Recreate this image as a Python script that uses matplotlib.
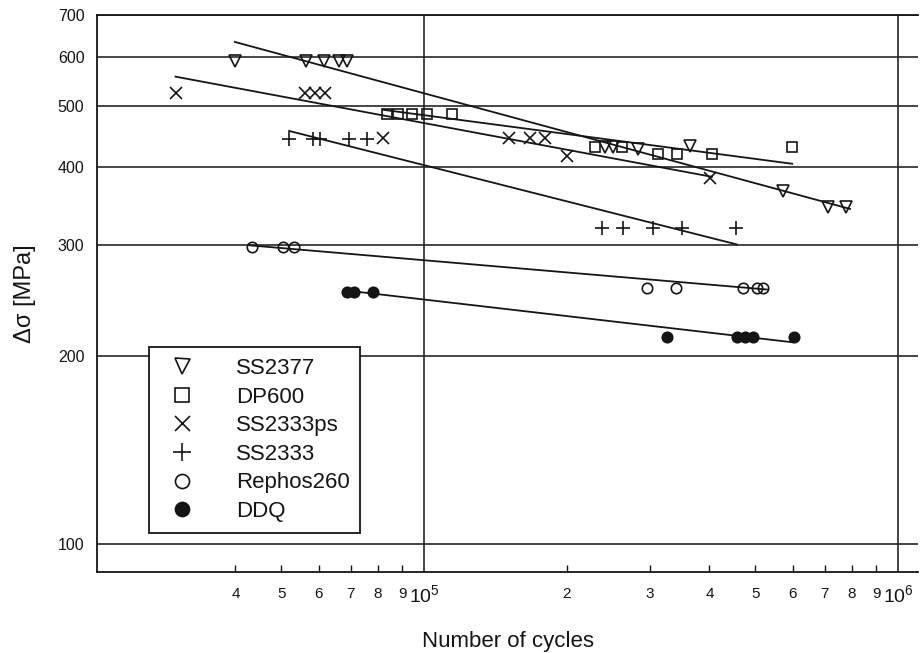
import numpy as np
import matplotlib.pyplot as plt
from matplotlib.ticker import FixedLocator, FixedFormatter, NullLocator

plt.rcParams['font.family'] = ['Liberation Sans', 'DejaVu Sans']
plt.rcParams['mathtext.default'] = 'regular'

# test results: number of cycles / stress range [MPa]
ss2377_n = [3.99e4, 5.64e4, 6.15e4, 6.62e4, 6.88e4, 2.41e5, 2.50e5, 2.83e5, 3.64e5, 5.72e5, 7.12e5, 7.77e5]
ss2377_s = [592, 592, 592, 592, 592, 430, 430, 428, 433, 367, 345, 345]

dp600_n = [8.35e4, 8.81e4, 9.43e4, 1.015e5, 1.146e5, 2.30e5, 2.62e5, 3.12e5, 3.42e5, 4.05e5, 5.98e5]
dp600_s = [487, 487, 487, 487, 487, 430, 430, 420, 420, 420, 430]

ss2333ps_n = [3.0e4, 5.61e4, 5.89e4, 6.18e4, 8.19e4, 1.51e5, 1.67e5, 1.80e5, 2.00e5, 4.01e5]
ss2333ps_s = [526, 526, 526, 526, 446, 446, 446, 446, 417, 385]

ss2333_n = [5.19e4, 5.83e4, 6.03e4, 6.95e4, 7.58e4, 2.37e5, 2.63e5, 3.04e5, 3.50e5, 4.55e5]
ss2333_s = [444, 444, 444, 444, 444, 320, 320, 320, 320, 320]

rephos_n = [4.34e4, 5.04e4, 5.32e4, 2.95e5, 3.40e5, 4.71e5, 5.05e5, 5.20e5]
rephos_s = [298, 298, 298, 256, 256, 256, 256, 256]

ddq_n = [6.88e4, 7.11e4, 7.81e4, 3.26e5, 4.57e5, 4.76e5, 4.94e5, 6.03e5]
ddq_s = [253, 253, 253, 214, 214, 214, 214, 214]

# fitted S-N lines (end points)
ss2377_fit_n, ss2377_fit_s = [3.99e4, 7.92e5], [634, 343]
dp600_fit_n, dp600_fit_s = [8.19e4, 5.98e5], [494, 405]
ss2333ps_fit_n, ss2333ps_fit_s = [2.99e4, 4.05e5], [558, 386]
ss2333_fit_n, ss2333_fit_s = [5.19e4, 4.57e5], [457, 301]
rephos_fit_n, rephos_fit_s = [4.29e4, 5.29e5], [300, 255]
ddq_fit_n, ddq_fit_s = [6.88e4, 6.00e5], [254, 210]

y_ticks = [100, 200, 300, 400, 500, 600, 700]
x_major = [1e5, 1e6]
x_major_labels = ['$10^5$', '$10^6$']
x_minor = [4e4, 5e4, 6e4, 7e4, 8e4, 9e4, 2e5, 3e5, 4e5, 5e5, 6e5, 7e5, 8e5, 9e5]
x_minor_labels = ['4', '5', '6', '7', '8', '9', '2', '3', '4', '5', '6', '7', '8', '9']

ink = '#151515'

fig = plt.figure(figsize=(9.22, 6.53), dpi=100)
ax = fig.add_axes([0.1052, 0.124, 0.8905, 0.853])
ax.set_xscale('log')
ax.set_yscale('log')

for fn, fs in [(ss2377_fit_n, ss2377_fit_s), (dp600_fit_n, dp600_fit_s),
               (ss2333ps_fit_n, ss2333ps_fit_s), (ss2333_fit_n, ss2333_fit_s),
               (rephos_fit_n, rephos_fit_s), (ddq_fit_n, ddq_fit_s)]:
    ax.plot(fn, fs, color=ink, lw=1.3, zorder=3)

kw = dict(ls='none', color=ink, mew=1.2, zorder=4)
ax.plot(ss2377_n, ss2377_s, marker='v', ms=8, mfc='none', label='SS2377', **kw)
ax.plot(dp600_n, dp600_s, marker='s', ms=7.5, mfc='none', label='DP600', **kw)
ax.plot(ss2333ps_n, ss2333ps_s, marker='x', ms=8, label='SS2333ps', **kw)
ax.plot(ss2333_n, ss2333_s, marker='+', ms=10, label='SS2333', **kw)
ax.plot(rephos_n, rephos_s, marker='o', ms=7.5, mfc='none', label='Rephos260', **kw)
ax.plot(ddq_n, ddq_s, marker='o', ms=7.5, mfc=ink, label='DDQ', **kw)

ax.set_xlim(2.042e4, 1.102e6)
ax.set_ylim(90.2, 700)

ax.yaxis.set_major_locator(FixedLocator(y_ticks))
ax.yaxis.set_major_formatter(FixedFormatter([str(v) for v in y_ticks]))
ax.yaxis.set_minor_locator(NullLocator())
ax.xaxis.set_major_locator(FixedLocator(x_major))
ax.xaxis.set_major_formatter(FixedFormatter(x_major_labels))
ax.xaxis.set_minor_locator(FixedLocator(x_minor))
ax.xaxis.set_minor_formatter(FixedFormatter(x_minor_labels))

ax.tick_params(axis='y', which='major', length=0, pad=9, labelsize=11.5, labelcolor=ink)
ax.tick_params(axis='x', which='major', direction='in', length=0, pad=9, labelsize=14, labelcolor=ink)
ax.tick_params(axis='x', which='minor', direction='in', length=5, width=1, pad=11,
               labelsize=11, labelcolor=ink, color=ink)

ax.grid(True, which='major', color='#262626', lw=1.2)
for side in ['left', 'bottom', 'top']:
    ax.spines[side].set_color(ink)
    ax.spines[side].set_linewidth(1.3)
ax.spines['right'].set_visible(False)

ax.set_ylabel('Δσ [MPa]', fontsize=17, color=ink)
ax.yaxis.set_label_coords(-0.074, 0.5)
ax.set_xlabel('Number of cycles', fontsize=16, color=ink)
ax.xaxis.set_label_coords(0.5, -0.105)

leg = ax.legend(loc='lower left', bbox_to_anchor=(0.0633, 0.070), borderaxespad=0,
                fontsize=16, markerscale=1.35, handlelength=2.0, handletextpad=1.4,
                labelspacing=0.34, borderpad=0.5, fancybox=False, framealpha=1,
                edgecolor=ink)
leg.get_frame().set_linewidth(1.3)
for t in leg.get_texts():
    t.set_color(ink)

fig.savefig('out.png', dpi=100)
